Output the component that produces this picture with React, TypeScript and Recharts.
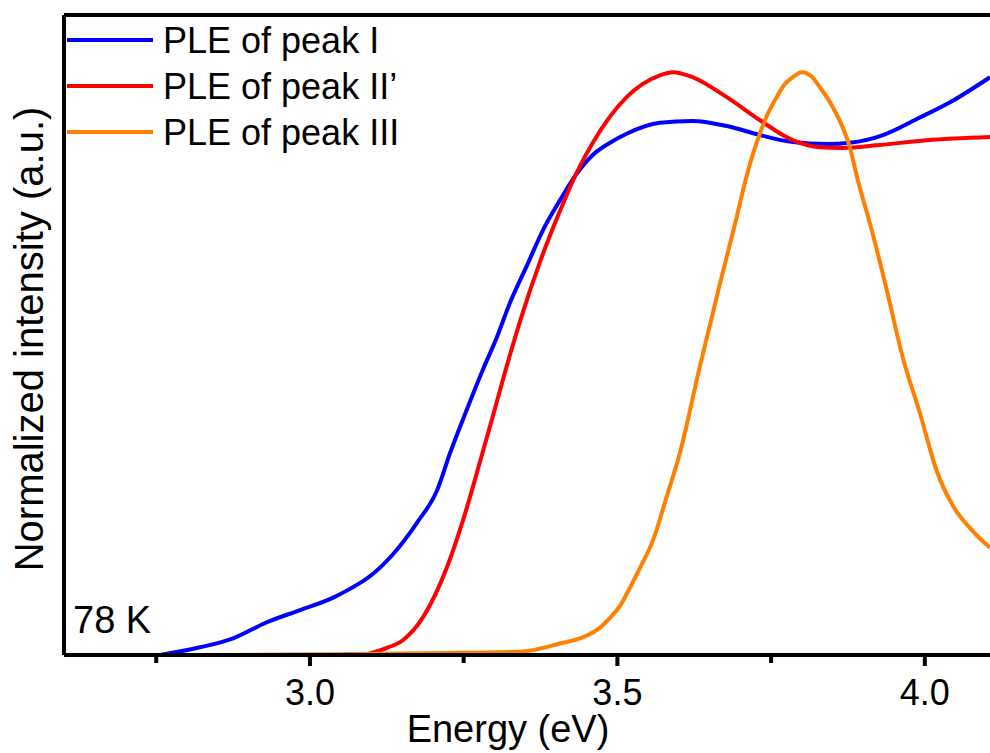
import React from "react";
import { LineChart, Line, XAxis, YAxis, ReferenceLine } from "recharts";

// Energy (eV) / normalized intensity (a.u.)
const peakIEnergy = [2.756, 2.821, 2.875, 2.93, 2.984, 3.037, 3.065, 3.098, 3.135, 3.174, 3.207, 3.228, 3.255, 3.281, 3.304, 3.325, 3.353, 3.379, 3.407, 3.431, 3.46, 3.488, 3.515, 3.569, 3.623, 3.678, 3.732, 3.785, 3.841, 3.878, 3.932, 3.987, 4.041, 4.106];
const peakIValue = [0, 0.012, 0.026, 0.051, 0.07, 0.089, 0.103, 0.123, 0.157, 0.206, 0.257, 0.315, 0.382, 0.444, 0.495, 0.548, 0.607, 0.662, 0.709, 0.746, 0.779, 0.798, 0.812, 0.829, 0.832, 0.824, 0.81, 0.799, 0.796, 0.798, 0.81, 0.835, 0.861, 0.9];

const peakIIEnergy = [3.089, 3.125, 3.151, 3.184, 3.223, 3.249, 3.276, 3.298, 3.32, 3.346, 3.374, 3.402, 3.434, 3.46, 3.515, 3.569, 3.59, 3.623, 3.678, 3.732, 3.785, 3.829, 3.867, 3.922, 4.003, 4.106];
const peakIIValue = [0, 0.011, 0.023, 0.059, 0.137, 0.21, 0.299, 0.374, 0.45, 0.533, 0.612, 0.681, 0.752, 0.798, 0.869, 0.903, 0.908, 0.9, 0.869, 0.833, 0.802, 0.791, 0.79, 0.794, 0.802, 0.807];

const peakIIIEnergy = [2.805, 3.341, 3.411, 3.439, 3.467, 3.488, 3.504, 3.52, 3.537, 3.558, 3.58, 3.602, 3.634, 3.667, 3.694, 3.707, 3.72, 3.732, 3.745, 3.759, 3.772, 3.785, 3.8, 3.815, 3.829, 3.85, 3.878, 3.891, 3.915, 3.938, 3.964, 3.992, 4.02, 4.046, 4.078, 4.106];
const peakIIIValue = [0, 0.005, 0.019, 0.026, 0.039, 0.058, 0.076, 0.104, 0.136, 0.179, 0.246, 0.316, 0.449, 0.579, 0.682, 0.734, 0.779, 0.813, 0.844, 0.869, 0.889, 0.9, 0.908, 0.902, 0.885, 0.854, 0.791, 0.74, 0.657, 0.569, 0.464, 0.377, 0.285, 0.232, 0.193, 0.167];

const xTicks = [2.75, 3.0, 3.25, 3.5, 3.75, 4.0];
const majorTicks = [3.0, 3.5, 4.0];
const seriesNames = ["PLE of peak I", "PLE of peak II\u2019", "PLE of peak III"];
const seriesColors = ["#0000FF", "#FF0000", "#FF8000"];

const X_DOMAIN: [number, number] = [2.6, 4.106];
const Y_DOMAIN: [number, number] = [0, 0.997];

const zip = (xs: number[], ys: number[]) => xs.map((e, i) => ({ e, v: ys[i] }));
const seriesData = [
  zip(peakIEnergy, peakIValue),
  zip(peakIIEnergy, peakIIValue),
  zip(peakIIIEnergy, peakIIIValue),
];

const FONT = "'Liberation Sans', Arial, sans-serif";

const XTick = (props: any) => {
  const { x, y, payload } = props;
  const major = majorTicks.some((m) => Math.abs(m - payload.value) < 1e-6);
  return (
    <g>
      <line x1={x} x2={x} y1={y} y2={y + (major ? 11 : 8)} stroke="#000" strokeWidth={4} />
      {major && (
        <text x={x} y={y + 50} textAnchor="middle" fontSize={36} fontFamily={FONT} fill="#000">
          {payload.value.toFixed(1)}
        </text>
      )}
    </g>
  );
};

export default function App() {
  return (
    <div style={{ position: "absolute", left: 0, top: 0, width: 990, height: 753, background: "#fff", overflow: "hidden" }}>
      <LineChart width={990} height={753} margin={{ top: 15, right: 0, bottom: 0, left: 0 }}>
        <XAxis
          type="number"
          dataKey="e"
          domain={X_DOMAIN}
          ticks={xTicks}
          allowDataOverflow
          height={98}
          tickSize={0}
          tickMargin={0}
          tickLine={false}
          axisLine={{ stroke: "#000", strokeWidth: 4 }}
          tick={<XTick />}
          label={{
            content: () => (
              <text x={508} y={742} textAnchor="middle" fontSize={38} fontFamily={FONT} fill="#000">
                Energy (eV)
              </text>
            ),
          }}
        />
        <YAxis
          type="number"
          domain={Y_DOMAIN}
          allowDataOverflow
          width={64}
          tick={false}
          tickLine={false}
          axisLine={{ stroke: "#000", strokeWidth: 4 }}
          label={{
            content: () => (
              <text
                x={43}
                y={339}
                transform="rotate(-90 43 339)"
                textAnchor="middle"
                fontSize={40}
                fontFamily={FONT}
                fill="#000"
              >
                Normalized intensity (a.u.)
              </text>
            ),
          }}
        />
        <ReferenceLine y={Y_DOMAIN[1]} stroke="#000" strokeWidth={4} />
        {seriesData.map((d, i) => (
          <Line
            key={seriesNames[i]}
            data={d}
            dataKey="v"
            name={seriesNames[i]}
            type="monotone"
            stroke={seriesColors[i]}
            strokeWidth={4}
            dot={false}
            activeDot={false}
            isAnimationActive={false}
          />
        ))}
        <g>
          {seriesNames.map((n, i) => (
            <g key={n}>
              <line x1={67} x2={153} y1={40 + i * 46} y2={40 + i * 46} stroke={seriesColors[i]} strokeWidth={4} />
              <text x={163} y={53 + i * 46} fontSize={36} fontFamily={FONT} fill="#000">
                {n}
              </text>
            </g>
          ))}
        </g>
        <text x={73} y={633} fontSize={38} fontFamily={FONT} fill="#000">
          78 K
        </text>
      </LineChart>
    </div>
  );
}
